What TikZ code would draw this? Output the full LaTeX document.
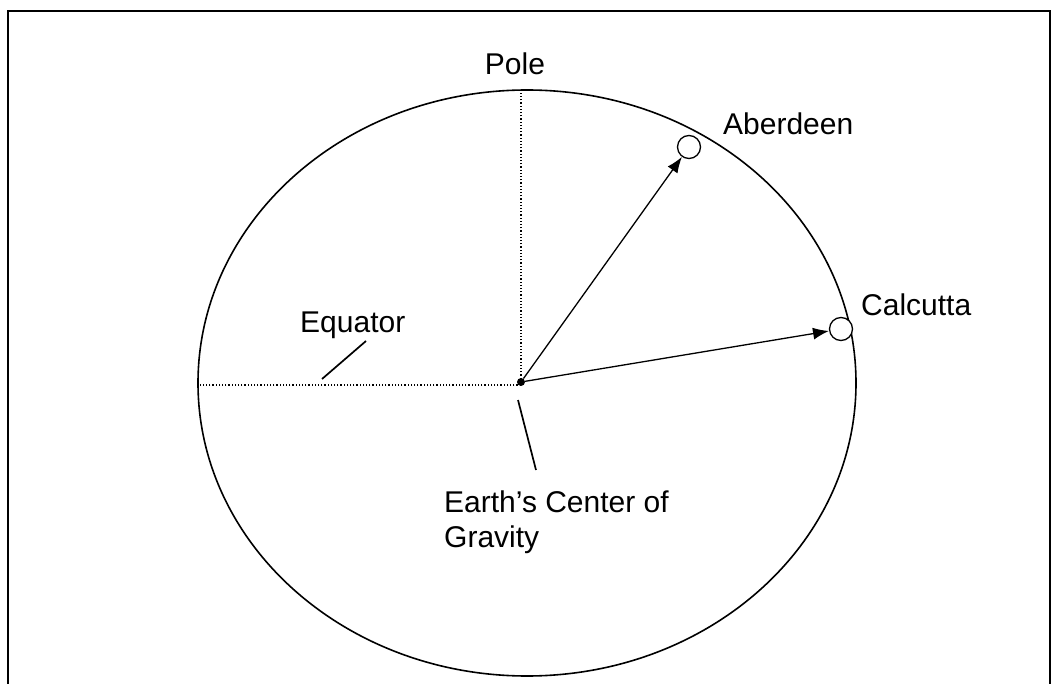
\documentclass[tikz,border=0pt]{standalone}
\usepackage{fontspec}
\setmainfont{Liberation Sans}
\usetikzlibrary{arrows.meta}

\begin{document}
\begin{tikzpicture}[x=1pt,y=-1pt,
  city/.style={circle,draw,line width=1.3pt,fill=white,minimum size=23pt,inner sep=0pt},
  cgdot/.style={circle,fill=black,minimum size=8pt,inner sep=0pt},
  lbl/.style={anchor=base west,inner sep=0pt,font=\fontsize{30}{35}\selectfont},
  arr/.style={line width=1.3pt,-{Latex[length=16pt,width=12pt]}},
  leader/.style={line width=1.7pt}]
  \useasboundingbox (0,0) rectangle (1060,684);
  \draw[line width=2pt] (8,11) rectangle (1050,720);
  \draw[line width=1.6pt] (527,383) ellipse (329pt and 293pt);
  % axes of the earth
  \node[cgdot] (cog) at (521,382) {};
  \coordinate (poletop) at (521,92); \coordinate (eqleft) at (199,385);
  \draw[dotted,line width=1.2pt] (cog.center) -- (poletop); \draw[dotted,line width=1.2pt] (cog.center) -- (eqleft -| cog.center) -- (eqleft);
  \node[lbl,anchor=base] (pole) at (515,75) {Pole};
  % the two cities
  \node[city] (aberdeen) at (689,147) {}; \node[city] (calcutta) at (841,329) {};
  \draw[arr] (cog) -- (aberdeen); \draw[arr] (cog) -- (calcutta);
  \node[lbl] (aberlbl) at (723,135) {Aberdeen}; \node[lbl] (calclbl) at (861,316) {Calcutta};
  % labels with leader lines
  \node[lbl] (equator) at (300,333) {Equator};
  \coordinate (eqa) at (322,379); \coordinate (eqb) at (366,341); \draw[leader] (eqa) -- (eqb);
  \coordinate (cga) at (518,400); \coordinate (cgb) at (536,470); \draw[leader] (cga) -- (cgb);
  \node[lbl] (cglbl) at (444,512) {Earth’s Center of}; \node[lbl] (cglbl2) at (444,547) {Gravity};
\end{tikzpicture}
\end{document}
